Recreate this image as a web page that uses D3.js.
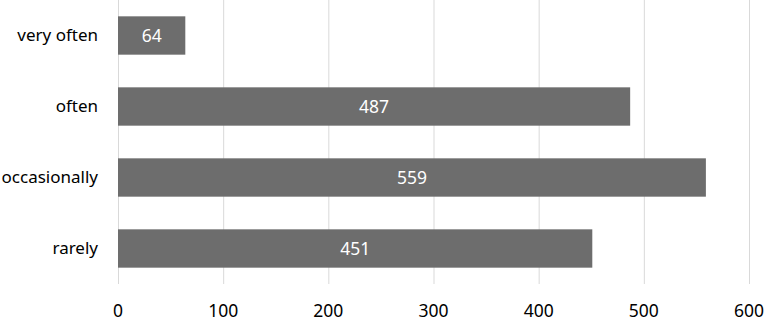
<!DOCTYPE html>
<html>
  <head>
    <meta charset="UTF-8" />
    <style>
      body {
        margin: 0;
        background: #fff;
      }
      text {
        font-family: "Noto Sans", sans-serif;
      }
    </style>
  </head>
  <body>
    <svg></svg>
    <script src="https://d3js.org/d3.v7.min.js"></script>
    <script>
      const categories = ["very often", "often", "occasionally", "rarely"];
      const values = [64, 487, 559, 451];
      const ticks = [0, 100, 200, 300, 400, 500, 600];

      let width = 767,
        height = 323;

      let svg = d3.select("svg").attr("width", width).attr("height", height);

      let x = d3.scaleLinear().domain([0, 600]).range([118, 749]);
      let y = d3
        .scaleBand()
        .domain(categories)
        .range([0, 284])
        .paddingInner(0.46)
        .paddingOuter(0.23);

      // gridlines
      svg
        .append("g")
        .selectAll("line")
        .data(ticks)
        .enter()
        .append("line")
        .attr("x1", (d) => x(d) + 0.5)
        .attr("x2", (d) => x(d) + 0.5)
        .attr("y1", 0)
        .attr("y2", 284)
        .attr("stroke", "#d9d9d9")
        .attr("stroke-width", 1);

      // tick labels
      svg
        .append("g")
        .selectAll("text")
        .data(ticks)
        .enter()
        .append("text")
        .attr("x", (d) => x(d))
        .attr("y", 317)
        .attr("text-anchor", "middle")
        .attr("font-size", 17.5)
        .attr("fill", "#000")
        .text((d) => d);

      // bars
      svg
        .append("g")
        .selectAll("rect")
        .data(values)
        .enter()
        .append("rect")
        .attr("x", x(0))
        .attr("y", (d, i) => y(categories[i]))
        .attr("width", (d) => x(d) - x(0))
        .attr("height", y.bandwidth())
        .attr("fill", "#6d6d6d");

      // value labels
      svg
        .append("g")
        .selectAll("text")
        .data(values)
        .enter()
        .append("text")
        .attr("x", (d) => (x(0) + x(d)) / 2)
        .attr("y", (d, i) => y(categories[i]) + y.bandwidth() / 2)
        .attr("dy", "0.35em")
        .attr("text-anchor", "middle")
        .attr("font-size", 17.5)
        .attr("fill", "#fff")
        .text((d) => d);

      // category labels
      svg
        .append("g")
        .selectAll("text")
        .data(categories)
        .enter()
        .append("text")
        .attr("x", 98)
        .attr("y", (d) => y(d) + y.bandwidth() / 2)
        .attr("dy", "0.35em")
        .attr("text-anchor", "end")
        .attr("font-size", 17)
        .attr("fill", "#000")
        .text((d) => d);
    </script>
  </body>
</html>
